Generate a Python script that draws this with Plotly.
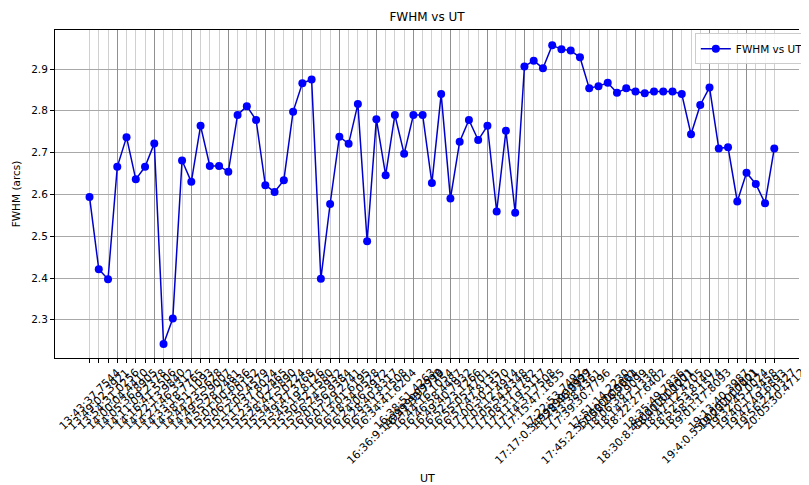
import plotly.graph_objects as go

ut_labels = [
    "13:43:37.7544", "13:49:02.3921", "13:54:31.0256", "14:00:04.4410", "14:05:36.8905",
    "14:11:09.2378", "14:16:41.5506", "14:22:13.9840", "14:27:46.3312", "14:33:18.7765",
    "14:38:51.1093", "14:44:23.5628", "14:49:55.9007", "14:55:28.2481", "15:01:00.6836",
    "15:06:33.0152", "15:12:05.4579", "15:17:37.8024", "15:23:10.2465", "15:28:42.5890",
    "15:34:15.0224", "15:39:47.3768", "15:45:19.8126", "15:50:52.1580", "15:56:24.5932",
    "16:01:56.9384", "16:07:29.2741", "16:13:01.6195", "16:18:34.0528", "16:24:06.3972",
    "16:28:40.8317", "16:33:13.1508", "16:34:41.6204", "16:36:9.149999999998", "16:38:51.4263",
    "16:41:33.7719", "16:44:16.1054", "16:46:58.4487", "16:49:40.7932", "16:52:23.1266",
    "16:55:05.4701", "16:57:47.8135", "17:00:30.1570", "17:03:12.4914", "17:05:54.8348",
    "17:08:37.1782", "17:11:19.5117", "17:14:31.7508", "17:15:47.1855", "17:17:0.349999999999",
    "17:22:53.7492", "17:28:46.0927", "17:33:38.4361", "17:39:30.7796", "17:45:2.550000000001",
    "17:51:14.2230", "17:58:26.5664", "18:06:38.9099", "18:14:47.1338", "18:22:27.6402",
    "18:30:8.450000000001", "18:35:49.7836", "18:41:31.1271", "18:47:12.4705", "18:52:53.8140",
    "18:58:35.1574", "19:01:17.8093", "19:4:0.5500000000001", "19:13:40.3987", "19:23:11.7421",
    "19:32:45.0024", "19:40:17.3458", "19:47:49.6893", "19:56:22.0327", "20:05:30.4712",
]

fwhm_arcs = [
    2.594, 2.421, 2.397, 2.666, 2.737, 2.636, 2.666, 2.722, 2.242, 2.303,
    2.681, 2.630, 2.764, 2.668, 2.668, 2.654, 2.790, 2.811, 2.778, 2.622,
    2.606, 2.634, 2.798, 2.866, 2.875, 2.398, 2.577, 2.738, 2.721, 2.816,
    2.488, 2.780, 2.646, 2.790, 2.697, 2.790, 2.790, 2.627, 2.840, 2.590,
    2.726, 2.778, 2.730, 2.764, 2.559, 2.752, 2.556, 2.906, 2.920, 2.902,
    2.957, 2.947, 2.944, 2.928, 2.854, 2.859, 2.867, 2.843, 2.854, 2.846,
    2.842, 2.846, 2.846, 2.846, 2.840, 2.744, 2.814, 2.856, 2.710, 2.713,
    2.583, 2.652, 2.625, 2.579, 2.710,
]

y_ticks = [2.3, 2.4, 2.5, 2.6, 2.7, 2.8, 2.9]

idx = list(range(len(ut_labels)))
FONT = "DejaVu Sans"
W, H = 801, 477  # page body adds an 8px offset; window crops the right edge like the reference

fig = go.Figure()
fig.add_trace(go.Scatter(
    x=idx, y=fwhm_arcs, mode="lines+markers", name="FWHM vs UT",
    text=ut_labels, hovertemplate="%{text}<br>%{y}<extra></extra>",
    line=dict(color="#0000cc", width=1.5),
    marker=dict(color="#0000ff", size=8),
))
# darker grid lines seen every 4th category in the reference
fig.add_trace(go.Scatter(x=[], y=[], xaxis="x2", showlegend=False, hoverinfo="skip"))

annotations = []
for i, lab in zip(idx, ut_labels):
    annotations.append(dict(
        x=i, xref="x", y=0, yref="paper", yshift=-5,
        text=lab, showarrow=False, textangle=-45,
        xanchor="center", yanchor="top",
        font=dict(family=FONT, size=11, color="#000000"),
    ))
annotations.append(dict(
    x=0.5, xref="paper", y=0, yref="paper", yshift=-112,
    text="UT", showarrow=False, xanchor="center", yanchor="top",
    font=dict(family=FONT, size=11, color="#000000"),
))

fig.update_layout(
    width=W, height=H,
    margin=dict(l=47, r=0, t=22, b=127),
    paper_bgcolor="white", plot_bgcolor="white",
    font=dict(family=FONT, size=10, color="#000000"),
    title=dict(text="FWHM vs UT", x=0.5, xref="paper", xanchor="center",
               y=1 - 9 / H, yref="container", yanchor="middle",
               font=dict(family=FONT, size=12, color="#000000")),
    xaxis=dict(
        range=[-3.73, 76.67], tickvals=idx, showticklabels=False,
        ticks="outside", ticklen=4, tickcolor="#000000", tickwidth=1,
        showgrid=True, gridcolor="#d0d0d0", gridwidth=1,
        showline=True, linecolor="#000000", linewidth=1, mirror=True,
        zeroline=False, automargin=False,
    ),
    xaxis2=dict(
        overlaying="x", matches="x", side="bottom",
        tickvals=idx[3::4], showticklabels=False, ticks="",
        showgrid=True, gridcolor="#909090", gridwidth=1,
        showline=False, zeroline=False, automargin=False,
    ),
    yaxis=dict(
        range=[2.2086, 2.9933], tickvals=y_ticks, ticktext=[f"{v:.1f}" for v in y_ticks],
        ticks="outside", ticklen=4, tickcolor="#000000", tickwidth=1,
        showgrid=True, gridcolor="#a8a8a8", gridwidth=1,
        showline=True, linecolor="#000000", linewidth=1,
        zeroline=False, automargin=False,
        title=dict(text="FWHM (arcs)", standoff=8, font=dict(family=FONT, size=10.5)),
        tickfont=dict(family=FONT, size=10.5),
    ),
    legend=dict(
        x=0.86, y=0.99, xanchor="left", yanchor="top",
        bordercolor="#cccccc", borderwidth=1, bgcolor="rgba(255,255,255,0.85)",
        font=dict(family=FONT, size=10.5),
    ),
    annotations=annotations,
    showlegend=True,
)

fig.write_html("out.html")
